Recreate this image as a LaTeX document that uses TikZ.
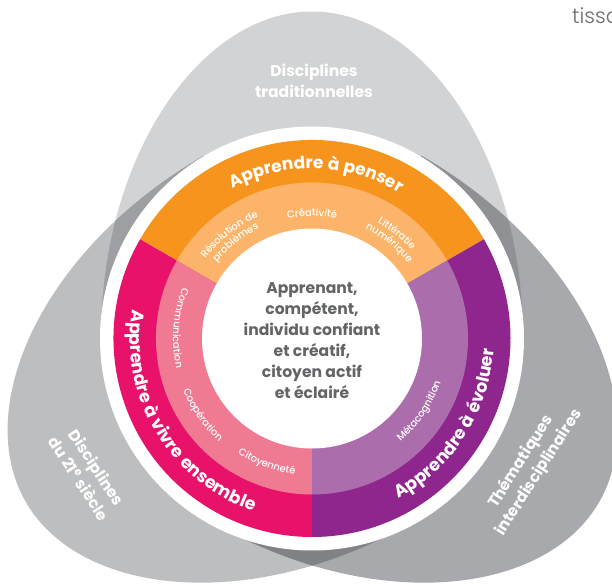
\documentclass[tikz,border=0pt]{standalone}
\usepackage{fontspec}
\setmainfont{Poppins}
\newfontfamily\lightfont{Poppins Light}
\newfontfamily\medfont{Poppins Medium}
\usetikzlibrary{decorations.text}
\definecolor{petalA}{HTML}{D1D3D4}
\definecolor{petalB}{HTML}{BCBEC0}
\definecolor{petalC}{HTML}{A7A9AC}
\definecolor{overAB}{HTML}{9D9FA2}
\definecolor{overAC}{HTML}{8F9194}
\definecolor{overBC}{HTML}{808285}
\definecolor{orangeD}{HTML}{F7941E}
\definecolor{orangeL}{HTML}{FBB469}
\definecolor{pinkD}{HTML}{E9126B}
\definecolor{pinkL}{HTML}{EF7A92}
\definecolor{purpleD}{HTML}{8F268E}
\definecolor{purpleL}{HTML}{AC6DAC}
\definecolor{inkgray}{HTML}{636466}
\definecolor{tissagray}{HTML}{6D6E71}
\newcommand\petalshape[2]{\path[#1,#2] (0,327) .. controls (110,327) and (211,185) .. (211,0) -- (-211,0) .. controls (-211,185) and (-110,327) .. (0,327) -- cycle;}
\newcommand\overlap[3]{\begin{scope}\petalshape{clip}{#1}\petalshape{fill=#3}{#2}\end{scope}}
\newcommand\sector[4]{\fill[#4] (#1:#3) arc (#1:#2:#3) -- (0,0) -- cycle;}
\newcommand\bandfont{\bfseries\fontsize{17}{17}\selectfont\addfontfeature{LetterSpace=3}}
\newcommand\bandfontb{\bfseries\fontsize{17.4}{17}\selectfont\addfontfeature{LetterSpace=4}}
\newcommand\smallfont{\medfont\fontsize{10}{10}\selectfont\addfontfeature{LetterSpace=3}}
\newcommand\arclabel[5]{\path[decorate,decoration={text along path,text align={center},text color=white,text={|#5|#4}}] (#1:#3) arc (#1:#2:#3);}
\begin{document}
\begin{tikzpicture}[x=1pt,y=1pt,
  petaltext/.style={text=white,font=\bfseries\fontsize{15.6}{21}\selectfont,align=center,inner sep=0pt}]
\useasboundingbox (-312,-244.5) rectangle (300,338.5);
\clip (-312,-244.5) rectangle (300,338.5);
\fill[white] (-312,-244.5) rectangle (300,338.5);
% petals
\def\rotA{rotate=0}
\def\rotB{shift={(-3,0)},rotate=120}
\def\rotC{shift={(4,0)},rotate=-120}
\petalshape{fill=petalA}{rotate=0}
\petalshape{fill=petalB}{shift={(-3,0)},rotate=120}
\petalshape{fill=petalC}{shift={(4,0)},rotate=-120}
\overlap{rotate=0}{shift={(-3,0)},rotate=120}{overAB}
\overlap{rotate=0}{shift={(4,0)},rotate=-120}{overAC}
\overlap{shift={(-3,0)},rotate=120}{shift={(4,0)},rotate=-120}{overBC}
% wheel
\fill[white] (0,0) circle (212);
\sector{30}{150}{198.5}{orangeD}
\sector{150}{270}{198.5}{pinkD}
\sector{270}{390}{198.5}{purpleD}
\sector{30}{150}{156}{orangeL}
\sector{150}{270}{156}{pinkL}
\sector{270}{390}{156}{purpleL}
\fill[white] (0,0) circle (110);
% band labels
\arclabel{145}{32}{170}{Apprendre à penser}{\bandfont}
\arclabel{155}{267}{182}{Apprendre à vivre ensemble}{\bandfontb}
\arclabel{-77}{12}{182}{Apprendre à évoluer}{\bandfontb}
% inner labels
\arclabel{115}{65}{122.5}{Créativité}{\smallfont}
\arclabel{155}{102}{133}{Résolution de}{\smallfont}
\arclabel{155}{102}{122}{problèmes}{\smallfont}
\arclabel{78}{24}{133}{Littératie}{\smallfont}
\arclabel{78}{24}{122}{numérique}{\smallfont}
\arclabel{150}{201}{139}{Communication}{\smallfont}
\arclabel{190}{240}{139}{Coopération}{\smallfont}
\arclabel{225}{275}{137}{Citoyenneté}{\smallfont}
\arclabel{-62}{-6}{136}{Métacognition}{\smallfont}
% centre
\node[text=inkgray,font=\bfseries\fontsize{15.6}{21}\selectfont,align=center,inner sep=0pt] (centre) at (0,-2.5) {Apprenant,\\compétent,\\individu confiant\\et créatif,\\citoyen actif\\et éclairé};
% petal labels
\node[petaltext] (ptop) at (2,257.5) {Disciplines\\traditionnelles};
\node[petaltext,rotate=-57] (pleft) at (-224,-134.5) {Disciplines\\du 21\textsuperscript{e} siècle};
\node[petaltext,rotate=57.5] (pright) at (218,-128.5) {Thématiques\\interdisciplinaires};
\node[anchor=base west,text=tissagray,font=\lightfont\fontsize{21}{21}\selectfont,inner sep=0pt] (tissa) at (260,314.5) {tissa};
\end{tikzpicture}
\end{document}
